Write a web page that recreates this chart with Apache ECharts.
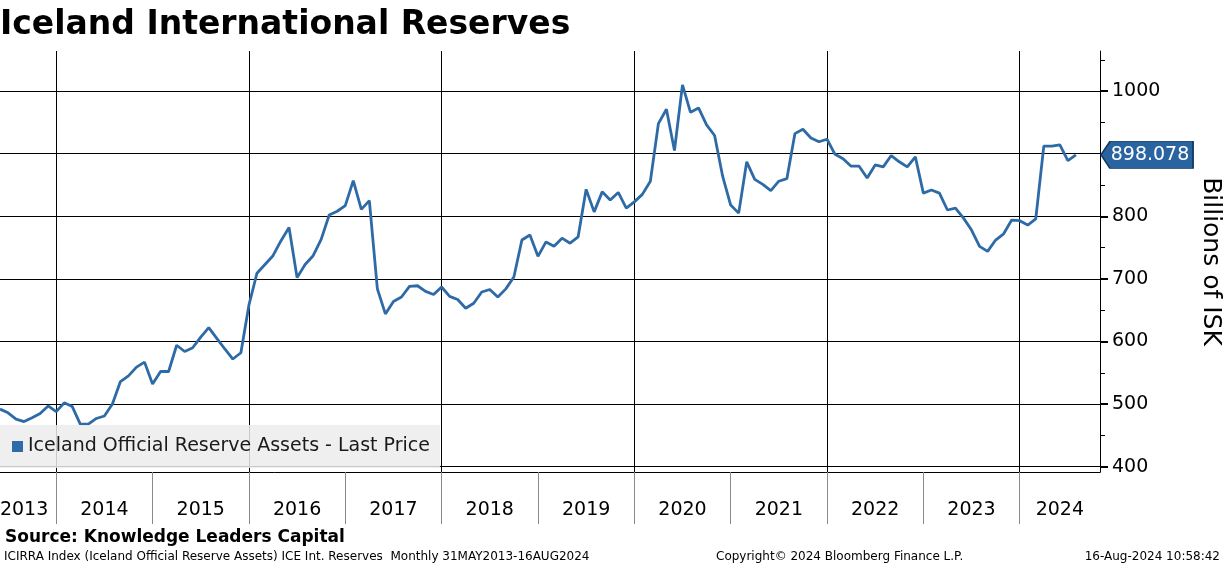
<!DOCTYPE html>
<html>
<head>
<meta charset="utf-8">
<title>Iceland International Reserves</title>
<script src="https://cdn.jsdelivr.net/npm/echarts@6/dist/echarts.min.js"></script>
<style>
  html, body { margin: 0; padding: 0; background: #fff; }
  #chart { width: 1224px; height: 566px; }
</style>
</head>
<body>
<div id="chart"></div>
<script>
// monthly reserve assets, billions of ISK, May 2013 .. Jul 2024
var values = [
  492, 486, 476, 472, 478, 485, 497, 488,
  502, 496, 468, 468, 477, 481, 500, 536, 545, 559, 567, 532,
  552, 552, 594, 584, 590, 607, 622, 605, 588, 572, 582, 658,
  709, 723, 737, 761, 782, 702, 723, 737, 763, 802, 808, 817,
  857, 811, 825, 684, 644, 664, 671, 688, 689, 680, 675, 687,
  672, 667, 653, 661, 679, 683, 671, 684, 703, 762, 770, 736,
  759, 752, 765, 757, 767, 843, 807, 839, 826, 838, 813, 823,
  835, 856, 948, 971, 905, 1010, 966, 973, 946, 929, 864, 818,
  805, 887, 859, 851, 841, 856, 860, 932, 939, 925, 919, 923,
  899, 892, 880, 880, 861, 882, 879, 897, 887, 879, 895, 837,
  842, 837, 810, 813, 797, 778, 752, 744, 762, 772, 794, 793,
  786, 796, 912, 912, 914, 889, 898.078
];
var yearLabels = ['2013', '2014', '2015', '2016', '2017', '2018', '2019', '2020', '2021', '2022', '2023', '2024'];
var majorTicks = [400, 500, 600, 700, 800, 900, 1000];
var minorTicks = [450, 550, 650, 750, 850, 950, 1050];
var seriesName = 'Iceland Official Reserve Assets - Last Price';

// month categories for the axis (runs a bit past the last data point)
var startYear = 2013, startMonth = 5, axisMonths = 138;
var months = [];
for (var k = 0; k < axisMonths; k++) {
  var m = startMonth - 1 + k;
  var y = startYear + Math.floor(m / 12);
  months.push(y + '-' + String(m % 12 + 1).padStart(2, '0'));
}

// year label sits in the middle of the visible part of its year
var labelAt = {};
yearLabels.forEach(function (yr) {
  var lo = months.indexOf((+yr - 1) + '-12');
  var hi = months.indexOf(yr + '-12');
  if (lo < 0) lo = 0;
  if (hi < 0) hi = months.length - 1;
  labelAt[Math.floor((lo + hi) / 2)] = yr;
});

var FONT = 'DejaVu Sans';
var lastValue = values[values.length - 1];

var chart = echarts.init(document.getElementById('chart'));
var option = {
  animation: false,
  backgroundColor: '#ffffff',
  textStyle: { fontFamily: FONT },
  title: [
    { text: 'Iceland International Reserves', left: 0, top: 9, padding: 0,
      textStyle: { fontSize: 33, fontWeight: 'bold', color: '#000', fontFamily: FONT } },
    { text: 'Source: Knowledge Leaders Capital', left: 5, top: 529, padding: 0,
      textStyle: { fontSize: 17, fontWeight: 'bold', color: '#000', fontFamily: FONT } },
    { text: 'ICIRRA Index (Iceland Official Reserve Assets) ICE Int. Reserves  Monthly 31MAY2013-16AUG2024', left: 4, top: 551, padding: 0,
      textStyle: { fontSize: 12, fontWeight: 'normal', color: '#000', fontFamily: FONT } },
    { text: 'Copyright\u00a9 2024 Bloomberg Finance L.P.', left: 716, top: 551, padding: 0,
      textStyle: { fontSize: 12, fontWeight: 'normal', color: '#000', fontFamily: FONT } },
    { text: '16-Aug-2024 10:58:42', right: 4, top: 551, padding: 0,
      textStyle: { fontSize: 12, fontWeight: 'normal', color: '#000', fontFamily: FONT } }
  ],
  legend: {
    data: [seriesName],
    left: 0,
    top: 425,
    orient: 'horizontal',
    padding: [12, 10, 12, 12],
    backgroundColor: 'rgba(236,236,236,0.85)',
    icon: 'rect',
    itemWidth: 11,
    itemHeight: 11,
    itemGap: 5,
    textStyle: { fontSize: 19, color: '#1a1a1a', fontFamily: FONT }
  },
  grid: { left: 0, right: 124, top: 51, bottom: 94, containLabel: false, outerBoundsMode: 'none' },
  xAxis: {
    type: 'category',
    data: months,
    boundaryGap: false,
    axisLine: { show: true, lineStyle: { color: '#000', width: 1 } },
    axisTick: {
      show: true,
      length: 52,
      interval: function (idx, val) { return val.slice(5) === '12'; },
      lineStyle: { color: '#8a8a8a', width: 1 }
    },
    axisLabel: {
      interval: function (idx) { return labelAt[idx] !== undefined; },
      formatter: function (val, idx) { return labelAt[idx] || ''; },
      fontSize: 19,
      color: '#000',
      margin: 29
    },
    splitLine: {
      show: true,
      interval: function (idx, val) {
        return val.slice(5) === '12' && (+val.slice(0, 4)) % 2 === 1;
      },
      lineStyle: { color: '#000', width: 1 }
    }
  },
  yAxis: [
    {
      type: 'value',
      position: 'right',
      min: 391.5,
      max: 1064,
      axisLine: { show: true, lineStyle: { color: '#000', width: 1 } },
      axisTick: { show: true, customValues: minorTicks, length: 5, lineStyle: { color: '#000', width: 1 } },
      axisLabel: { show: false },
      splitLine: { show: false }
    },
    {
      type: 'value',
      position: 'right',
      min: 391.5,
      max: 1064,
      name: 'Billions of ISK',
      nameLocation: 'middle',
      nameRotate: -90,
      nameGap: 98,
      nameTextStyle: { fontSize: 25, color: '#000', fontFamily: FONT },
      axisLine: { show: false },
      axisTick: { show: true, customValues: majorTicks, length: 8, lineStyle: { color: '#000', width: 2 } },
      axisLabel: {
        customValues: majorTicks,
        formatter: function (v) { return String(v); },
        fontSize: 19,
        color: '#000',
        margin: 12
      },
      splitLine: { show: true, lineStyle: { color: '#000', width: 1 } }
    }
  ],
  series: [{
    name: seriesName,
    type: 'line',
    yAxisIndex: 0,
    data: values,
    showSymbol: false,
    lineStyle: { color: '#2d6aa6', width: 2.8 },
    itemStyle: { color: '#2d6aa6' },
    markPoint: {
      silent: true,
      data: [{
        coord: [months[months.length - 1], lastValue],
        symbol: 'path://M0,13 L9,0 L92,0 L92,26 L9,26 Z',
        symbolSize: [92, 27],
        symbolKeepAspect: false,
        symbolOffset: [47, 0],
        itemStyle: { color: '#2a64a0', borderColor: '#163a63', borderWidth: 1 },
        label: {
          show: true,
          position: 'inside',
          offset: [3, 0],
          formatter: lastValue.toFixed(3),
          color: '#fff',
          fontSize: 19,
          fontFamily: FONT
        }
      }]
    }
  }]
};
chart.setOption(option);
</script>
</body>
</html>
